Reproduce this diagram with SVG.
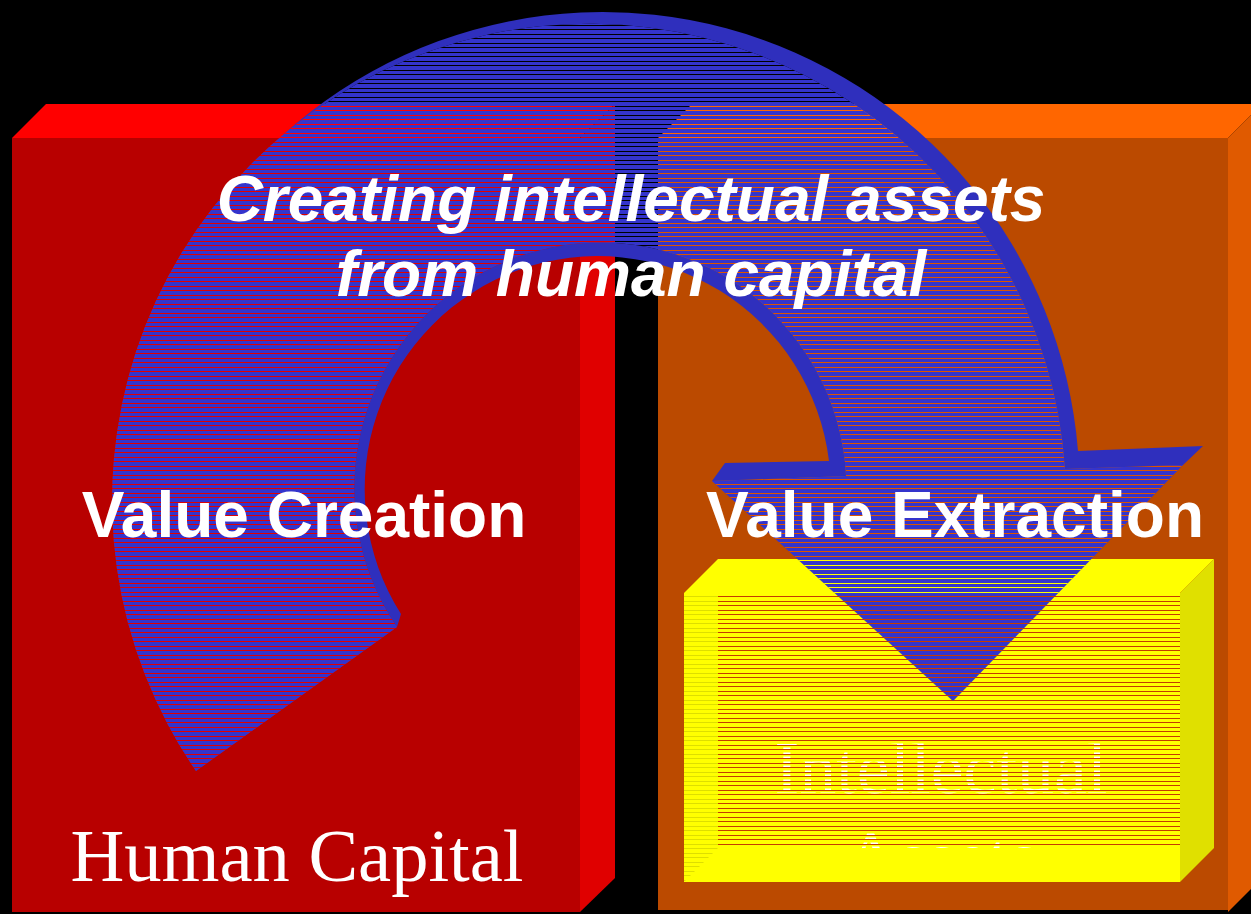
<svg xmlns="http://www.w3.org/2000/svg" width="1251" height="914" viewBox="0 0 1251 914">
  <style>
    .sans { font-family: "Liberation Sans", Arial, sans-serif; font-weight: bold; fill: #ffffff; }
    .serif { font-family: "Liberation Serif", "Times New Roman", serif; fill: #ffffff; }
  </style>
  <defs>
    <path id="zFront" d="M 196,771 A 477 477 0 1 1 1065,469 L 1183,465 L 953,701 L 712,481 L 846,476 A 246 246 0 1 0 397,627 Z"/>
    <pattern id="blueStripes" patternUnits="userSpaceOnUse" x="0" y="0" width="40" height="9">
      <rect x="0" y="0" width="40" height="2" fill="#3434cc"/>
      <rect x="0" y="3" width="40" height="4" fill="#3434cc"/>
      <rect x="0" y="8" width="40" height="1" fill="#3434cc"/>
    </pattern>
    <pattern id="redLines" patternUnits="userSpaceOnUse" x="0" y="0" width="40" height="9">
      <rect x="0" y="2" width="40" height="1" fill="#c43c00"/>
      <rect x="0" y="7" width="40" height="1" fill="#c43c00"/>
    </pattern>
    <pattern id="yelLines" patternUnits="userSpaceOnUse" x="0" y="0" width="40" height="9">
      <rect x="0" y="2" width="40" height="1" fill="#dede00"/>
      <rect x="0" y="7" width="40" height="1" fill="#dede00"/>
    </pattern>
    <pattern id="textRows" patternUnits="userSpaceOnUse" x="0" y="0" width="40" height="9">
      <rect x="0" y="0.5" width="40" height="1.5" fill="#ffffff"/>
      <rect x="0" y="5.5" width="40" height="1.5" fill="#ffffff"/>
    </pattern>
    <clipPath id="clipZ"><use href="#zFront"/></clipPath>
    <mask id="notZ" maskUnits="userSpaceOnUse" x="0" y="0" width="1251" height="914">
      <rect x="0" y="0" width="1251" height="914" fill="#ffffff"/>
      <use href="#zFront" fill="#000000"/>
    </mask>
    <mask id="rowMask" maskUnits="userSpaceOnUse" x="0" y="0" width="1251" height="914">
      <rect x="718" y="593" width="462" height="255" fill="url(#textRows)"/>
    </mask>
  </defs>

  <rect x="0" y="0" width="1251" height="914" fill="#000000"/>

  <g id="box-human-capital">
    <polygon points="12,138 46,104 615,104 580,138" fill="#ff0000"/>
    <polygon points="580,138 615,104 615,878 580,912" fill="#e00000"/>
    <rect x="12" y="138" width="568" height="774" fill="#b80000"/>
  </g>

  <g id="box-value-extraction">
    <polygon points="658,138 692,104 1262,104 1228,138" fill="#ff6600"/>
    <polygon points="1228,138 1262,104 1262,878 1228,912" fill="#e05a00"/>
    <rect x="658" y="138" width="570" height="772" fill="#bb4a00"/>
  </g>

  <g id="arrow-underlay" clip-path="url(#clipZ)">
    <rect x="12" y="138" width="568" height="774" fill="#e00000"/>
    <rect x="658" y="138" width="570" height="772" fill="#dc5400"/>
  </g>

  <g id="box-intellectual-assets">
    <polygon points="684,593 718,559 1214,559 1180,593" fill="#ffff00"/>
    <polygon points="1180,593 1214,559 1214,848 1180,882" fill="#e0e000"/>
    <rect x="684" y="593" width="496" height="289" fill="#ffff00"/>
    <rect x="718" y="593" width="462" height="255" fill="url(#redLines)"/>
    <polygon points="684,593 718,593 718,848 684,882" fill="url(#yelLines)"/>
    <g mask="url(#rowMask)">
      <text class="serif" x="941" y="793" font-size="74" text-anchor="middle">Intellectual</text>
      <text class="serif" x="941" y="882" font-size="74" text-anchor="middle">Assets</text>
    </g>
  </g>

  <g id="connectors">
    <g id="arrow-value-creation">
      <path d="M 196,771 A 477 477 0 0 1 210,218 A 477 477 0 0 1 1078,451 L 1203,446 L 1183,465 L 953,701 L 712,481 L 725,463 L 829,461 A 233 233 0 1 0 401,614 L 397,627 Z" fill="#2f2fbd" mask="url(#notZ)"/>
      <use href="#zFront" fill="url(#blueStripes)"/>
    </g>
  </g>

  <g id="labels">
    <text class="sans" x="631" y="221" font-size="64" font-style="italic" text-anchor="middle">Creating intellectual assets</text>
    <text class="sans" x="631" y="296" font-size="64" font-style="italic" text-anchor="middle">from human capital</text>
    <text class="sans" x="304" y="537" font-size="64" text-anchor="middle">Value Creation</text>
    <text class="sans" x="955" y="537" font-size="64" text-anchor="middle">Value Extraction</text>
    <text class="serif" x="297" y="881" font-size="74.5" text-anchor="middle">Human Capital</text>
  </g>
</svg>
